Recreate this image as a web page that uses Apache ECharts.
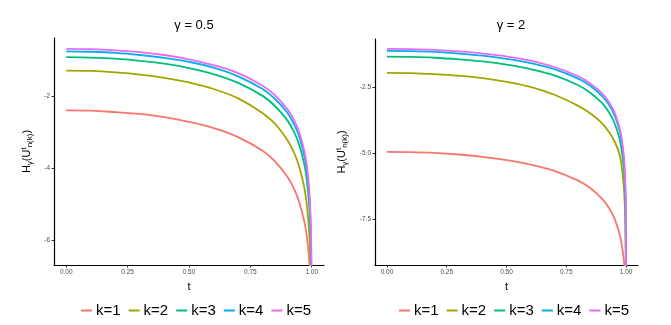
<!DOCTYPE html>
<html>
<head>
<meta charset="utf-8">
<script src="https://cdn.jsdelivr.net/npm/echarts@6/dist/echarts.min.js"></script>
<style>
  html, body { margin: 0; padding: 0; background: #fff; }
  #chart { width: 671px; height: 325px; }
</style>
</head>
<body>
<div id="chart"></div>
<script>
// t 网格
var tVals = [0, 0.1, 0.2, 0.3, 0.4, 0.5, 0.6, 0.7, 0.8, 0.85, 0.9, 0.93, 0.95, 0.97, 0.98, 0.99, 0.995, 0.998, 1];
var kNames = ['k=1', 'k=2', 'k=3', 'k=4', 'k=5'];
var colors = ['#F8766D', '#A3A500', '#00BF7D', '#00B0F6', '#E76BF3'];

// gamma = 0.5
var g05k1 = [-2.40, -2.41, -2.45, -2.50, -2.59, -2.72, -2.89, -3.14, -3.52, -3.81, -4.23, -4.60, -4.96, -5.48, -5.88, -6.55, -7.20, -8.20, -9.00];
var g05k2 = [-1.30, -1.31, -1.35, -1.41, -1.50, -1.63, -1.81, -2.07, -2.48, -2.77, -3.21, -3.60, -3.98, -4.55, -5.01, -5.80, -6.60, -7.65, -9.00];
var g05k3 = [-0.93, -0.94, -0.97, -1.03, -1.11, -1.23, -1.40, -1.64, -2.00, -2.28, -2.67, -3.03, -3.37, -3.90, -4.32, -5.04, -5.77, -6.73, -9.00];
var g05k4 = [-0.77, -0.78, -0.81, -0.87, -0.95, -1.06, -1.22, -1.46, -1.81, -2.08, -2.46, -2.81, -3.14, -3.66, -4.06, -4.77, -5.47, -6.40, -9.00];
var g05k5 = [-0.70, -0.71, -0.74, -0.79, -0.87, -0.99, -1.15, -1.37, -1.72, -1.98, -2.36, -2.70, -3.03, -3.53, -3.93, -4.62, -5.31, -6.22, -9.00];

// gamma = 2
var g2k1 = [-4.95, -4.96, -4.99, -5.05, -5.14, -5.26, -5.43, -5.67, -6.04, -6.32, -6.73, -7.09, -7.44, -7.96, -8.36, -8.98, -9.60, -10.6, -11.0];
var g2k2 = [-1.96, -1.97, -2.01, -2.07, -2.16, -2.30, -2.49, -2.79, -3.21, -3.49, -3.87, -4.22, -4.52, -4.96, -5.38, -6.20, -7.00, -8.10, -11.0];
var g2k3 = [-1.35, -1.36, -1.39, -1.45, -1.53, -1.65, -1.82, -2.06, -2.43, -2.71, -3.11, -3.47, -3.82, -4.35, -4.77, -5.50, -6.23, -7.20, -11.0];
var g2k4 = [-1.13, -1.14, -1.17, -1.23, -1.31, -1.43, -1.59, -1.82, -2.18, -2.45, -2.84, -3.19, -3.53, -4.04, -4.46, -5.16, -5.88, -6.82, -11.0];
var g2k5 = [-1.05, -1.06, -1.09, -1.15, -1.23, -1.34, -1.50, -1.74, -2.09, -2.36, -2.74, -3.09, -3.42, -3.94, -4.34, -5.04, -5.75, -6.68, -11.0];

var xTicks = [0, 0.25, 0.5, 0.75, 1];
var yTicksLeft = [-6, -4, -2];
var yTicksRight = [-7.5, -5, -2.5];

var leftData = [g05k1, g05k2, g05k3, g05k4, g05k5];
var rightData = [g2k1, g2k2, g2k3, g2k4, g2k5];

var font = 'Liberation Sans, Arial, sans-serif';

function zip(ys) {
    var out = [];
    for (var i = 0; i < tVals.length; i++) {
        out.push([tVals[i], ys[i]]);
    }
    return out;
}

function makeX(idx) {
    return {
        gridIndex: idx, type: 'value', min: -0.05, max: 1.05,
        name: 't', nameLocation: 'middle', nameGap: 16,
        nameTextStyle: { fontFamily: font, fontSize: 11, color: '#000' },
        axisLine: { show: true, onZero: false, lineStyle: { color: '#000', width: 1.2 } },
        axisTick: { show: true, length: 2.5, customValues: xTicks, lineStyle: { color: '#333' } },
        axisLabel: {
            customValues: xTicks, fontFamily: font, fontSize: 6.5, color: '#4d4d4d', margin: 4,
            formatter: function (v) { return v.toFixed(2); }
        },
        splitLine: { show: false }
    };
}

function makeY(idx, min, max, ticks, gap, digits) {
    return {
        gridIndex: idx, type: 'value', min: min, max: max,
        name: '{h|H}{s|γ}{h|(U}{p|t}{s|n(k)}{h|)}',
        nameLocation: 'middle', nameGap: gap, nameRotate: 90,
        nameTextStyle: {
            fontFamily: font, color: '#000',
            rich: {
                h: { fontFamily: font, fontSize: 11, color: '#000' },
                s: { fontFamily: font, fontSize: 8, color: '#000', padding: [6, 0, 0, 0] },
                p: { fontFamily: font, fontSize: 8, color: '#000', padding: [0, 0, 6, 0] }
            }
        },
        axisLine: { show: true, onZero: false, lineStyle: { color: '#000', width: 1.2 } },
        axisTick: { show: true, length: 2.5, customValues: ticks, lineStyle: { color: '#333' } },
        axisLabel: {
            customValues: ticks, fontFamily: font, fontSize: 6.5, color: '#4d4d4d', margin: 4,
            formatter: function (v) { return v.toFixed(digits); }
        },
        splitLine: { show: false }
    };
}

function makeSeries(k, idx, ys) {
    return {
        name: kNames[k], type: 'line', xAxisIndex: idx, yAxisIndex: idx,
        data: zip(ys), smooth: 0.4, showSymbol: false, clip: true,
        lineStyle: { color: colors[k], width: 1.8 }, itemStyle: { color: colors[k] }
    };
}

var series = [];
for (var k = 0; k < 5; k++) {
    series.push(makeSeries(k, 0, leftData[k]));
}
for (var k = 0; k < 5; k++) {
    series.push(makeSeries(k, 1, rightData[k]));
}

function makeLegend(cx) {
    return {
        data: kNames, left: cx, top: 298, orient: 'horizontal',
        icon: 'rect', itemWidth: 11, itemHeight: 2, itemGap: 8,
        textStyle: { fontFamily: font, fontSize: 15, color: '#000', padding: [0, 0, 0, -1] }
    };
}

var myChart = echarts.init(document.getElementById('chart'), null, { renderer: 'canvas' });
var option = {
    animation: false,
    backgroundColor: '#fff',
    title: [
        { text: 'γ = 0.5', left: 189, top: 14, textAlign: 'center',
          textStyle: { fontFamily: font, fontSize: 13, fontWeight: 'normal', color: '#000' } },
        { text: 'γ = 2', left: 506, top: 14, textAlign: 'center',
          textStyle: { fontFamily: font, fontSize: 13, fontWeight: 'normal', color: '#000' } }
    ],
    grid: [
        { left: 54, top: 38, width: 270, height: 227 },
        { left: 375, top: 39, width: 263, height: 226 }
    ],
    xAxis: [makeX(0), makeX(1)],
    yAxis: [
        makeY(0, -6.675, -0.4, yTicksLeft, 20, 0),
        makeY(1, -9.23, -0.68, yTicksRight, 26, 1)
    ],
    legend: [makeLegend(76), makeLegend(394)],
    series: series
};
myChart.setOption(option);
</script>
</body>
</html>
